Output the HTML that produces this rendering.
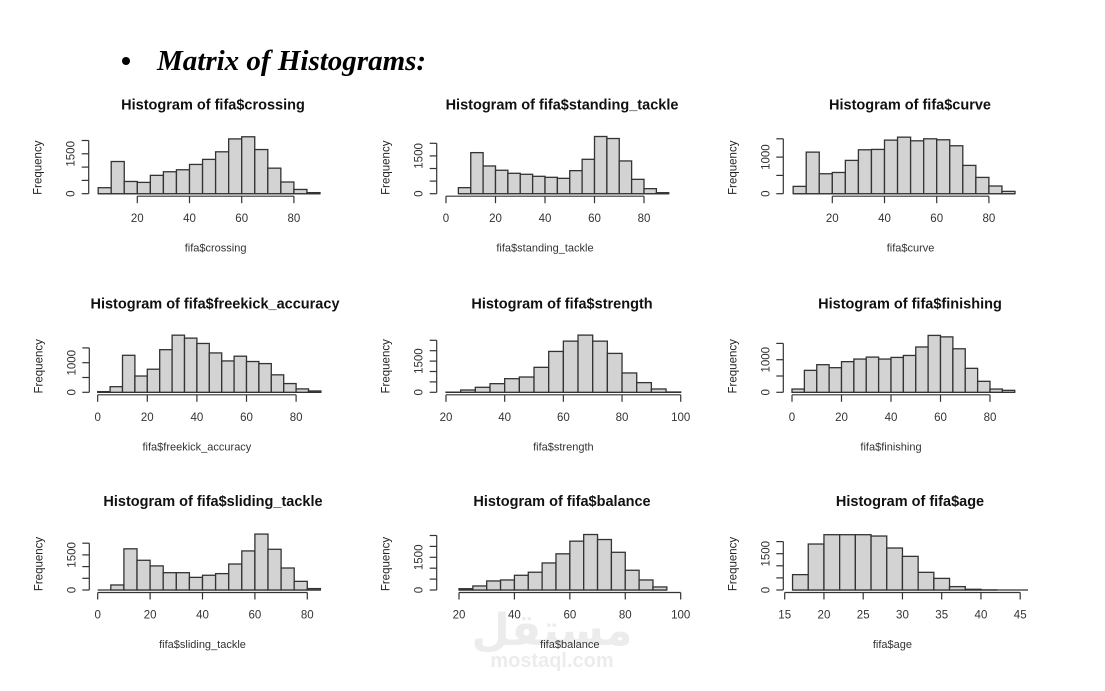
<!DOCTYPE html>
<html><head><meta charset="utf-8">
<style>
html,body{margin:0;padding:0;background:#fff;}
body{width:1105px;height:686px;overflow:hidden;position:relative;}
svg text{font-family:"Liberation Sans",sans-serif;}
</style></head>
<body>
<svg id="chart" width="1105" height="686" xmlns="http://www.w3.org/2000/svg">
  <circle cx="126" cy="61" r="4" fill="#000"/>
  <text x="157" y="70" style="font-family:'Liberation Serif',serif;font-weight:bold;font-style:italic;font-size:29px" fill="#000">Matrix of Histograms:</text>
  <text x="552" y="645" text-anchor="middle" style="font-family:'DejaVu Sans',sans-serif;font-size:44px;font-weight:bold" fill="#ececec">مستقل</text>
  <text x="552" y="667" text-anchor="middle" style="font-size:20px;font-weight:bold" fill="#ececec">mostaql.com</text>
  <g id="panels"></g>
</svg>
<script>
// ---- data ----
const crossingCounts = [225,1210,460,425,690,825,900,1100,1290,1575,2060,2140,1660,960,440,160,40];
const standingCounts = [240,1630,1100,930,810,770,690,650,610,915,1365,2270,2190,1300,570,200,40];
const curveCounts = [200,1136,545,580,910,1200,1210,1464,1545,1445,1500,1473,1310,773,445,210,64];
const freekickCounts = [23,190,1250,550,780,1440,1930,1830,1650,1330,1060,1220,1040,970,590,295,115,45];
const strengthCounts = [5,110,240,415,655,735,1200,1965,2460,2750,2460,1870,930,465,160,15];
const finishingCounts = [100,673,847,755,940,1020,1080,1020,1070,1130,1390,1745,1700,1335,735,337,100,60];
const slidingCounts = [0,215,1760,1270,1030,740,740,540,630,700,1110,1670,2390,1740,940,370,60];
const balanceCounts = [60,185,415,460,675,815,1240,1660,2240,2545,2315,1730,905,460,140];
const ageCounts = [635,1900,2285,2285,2285,2230,1735,1390,730,480,140,30,3,0,0];
const xTicks80from20 = [20,40,60,80];
const xTicks80from0 = [0,20,40,60,80];
const xTicks100 = [20,40,60,80,100];
const xTicksAge = [15,20,25,30,35,40,45];
const yLabelsCrossing = [0,1500];
const yLabelsCurve = [0,1000];

// layout per panel (not data)
const panels = [
 {name:'crossing', counts:crossingCounts, start:5, w:5, xt:xTicks80from20, yl:yLabelsCrossing, yTop:2000, x0:85.1, ppu:2.61, base:193.7, p500:13.3, ax:88.7, cx:213},
 {name:'standing_tackle', counts:standingCounts, start:5, w:5, xt:xTicks80from0, yl:yLabelsCrossing, yTop:2000, x0:446, ppu:2.475, base:193.7, p500:12.6, ax:436.7, cx:562},
 {name:'curve', counts:curveCounts, start:5, w:5, xt:xTicks80from20, yl:yLabelsCurve, yTop:1500, x0:780.1, ppu:2.61, base:193.7, p500:18.3, ax:783.3, cx:910},
 {name:'freekick_accuracy', counts:freekickCounts, start:0, w:5, xt:xTicks80from0, yl:yLabelsCurve, yTop:1500, x0:97.7, ppu:2.48, base:392.3, p500:14.8, ax:89.3, cx:215},
 {name:'strength', counts:strengthCounts, start:20, w:5, xt:xTicks100, yl:yLabelsCrossing, yTop:2500, x0:446-20*2.934, ppu:2.934, base:392.3, p500:10.4, ax:436.7, cx:562},
 {name:'finishing', counts:finishingCounts, start:0, w:5, xt:xTicks80from0, yl:yLabelsCurve, yTop:1500, x0:792, ppu:2.475, base:392.3, p500:16.3, ax:783.3, cx:910},
 {name:'sliding_tackle', counts:slidingCounts, start:0, w:5, xt:xTicks80from0, yl:yLabelsCrossing, yTop:2000, x0:97.7, ppu:2.62, base:590, p500:11.7, ax:89.3, cx:213},
 {name:'balance', counts:balanceCounts, start:20, w:5, xt:xTicks100, yl:yLabelsCrossing, yTop:2500, x0:459-20*2.771, ppu:2.771, base:590, p500:10.9, ax:436.7, cx:562},
 {name:'age', counts:ageCounts, start:16, w:2, xt:xTicksAge, yl:yLabelsCrossing, yTop:2000, x0:784.7-15*7.85, ppu:7.85, base:590, p500:12.1, ax:783.3, cx:910}
];
const NS='http://www.w3.org/2000/svg';
const root=document.getElementById('panels');
function mk(tag,attrs,parent){const e=document.createElementNS(NS,tag);for(const k in attrs)e.setAttribute(k,attrs[k]);parent.appendChild(e);return e;}
panels.forEach(p=>{
  const g=mk('g',{},root);
  
  
  const X=v=>p.x0+v*p.ppu;
  const Y=v=>p.base-v/500*p.p500;
  const t=mk('text',{x:p.cx,y:p.base-84,'text-anchor':'middle','font-size':'14.5','font-weight':'bold',fill:'#111'},g);
  
  
  t.textContent='Histogram of fifa$'+p.name;
  const end=p.start+p.w*p.counts.length;
  const bl=mk('line',{x1:X(p.start),x2:X(end),y1:p.base,y2:p.base,stroke:'#333','stroke-width':'1.3'},g);
  
  
  p.counts.forEach((c,i)=>{
    if(c<=0) return;
    const x1=X(p.start+i*p.w), x2=X(p.start+(i+1)*p.w);
    const r=mk('rect',{x:x1,y:Y(c),width:x2-x1,height:p.base-Y(c),fill:'#d3d3d3',stroke:'#333','stroke-width':'1.3'},g);
    
    
  });
  const ay=p.base+2.5;
  const xa=mk('line',{x1:X(p.xt[0]),x2:X(p.xt[p.xt.length-1]),y1:ay,y2:ay,stroke:'#333','stroke-width':'1.2'},g);
  
  
  p.xt.forEach(v=>{
    mk('line',{x1:X(v),x2:X(v),y1:ay,y2:ay+7,stroke:'#333','stroke-width':'1.2'},g);
    const tl=mk('text',{x:X(v),y:ay+26,'text-anchor':'middle','font-size':'11.5',fill:'#333'},g);
    
    
    tl.textContent=v;
  });
  const xl=mk('text',{x:(X(p.xt[0])+X(p.xt[p.xt.length-1]))/2+ (p.name==='age'?-10:0),y:p.base+58,'text-anchor':'middle','font-size':'11',fill:'#333'},g);
  
  
  xl.textContent='fifa$'+p.name;
  const ya=mk('line',{x1:p.ax,x2:p.ax,y1:Y(0),y2:Y(p.yTop),stroke:'#333','stroke-width':'1.2'},g);
  
  
  for(let v=0;v<=p.yTop;v+=500){
    mk('line',{x1:p.ax-7,x2:p.ax,y1:Y(v),y2:Y(v),stroke:'#333','stroke-width':'1.2'},g);
  }
  p.yl.forEach(v=>{
    const tx=p.ax-14, ty=Y(v);
    const tl=mk('text',{x:tx,y:ty,'text-anchor':'middle','font-size':'11.5',fill:'#333',transform:`rotate(-90 ${tx} ${ty})`},g);
    
    
    tl.textContent=v;
  });
  const fx=p.ax-47, fy=Y(0)-26;
  const fl=mk('text',{x:fx,y:fy,'text-anchor':'middle','font-size':'11.5',fill:'#222',transform:`rotate(-90 ${fx} ${fy})`},g);
  
  
  fl.textContent='Frequency';
});
</script>
</body></html>
